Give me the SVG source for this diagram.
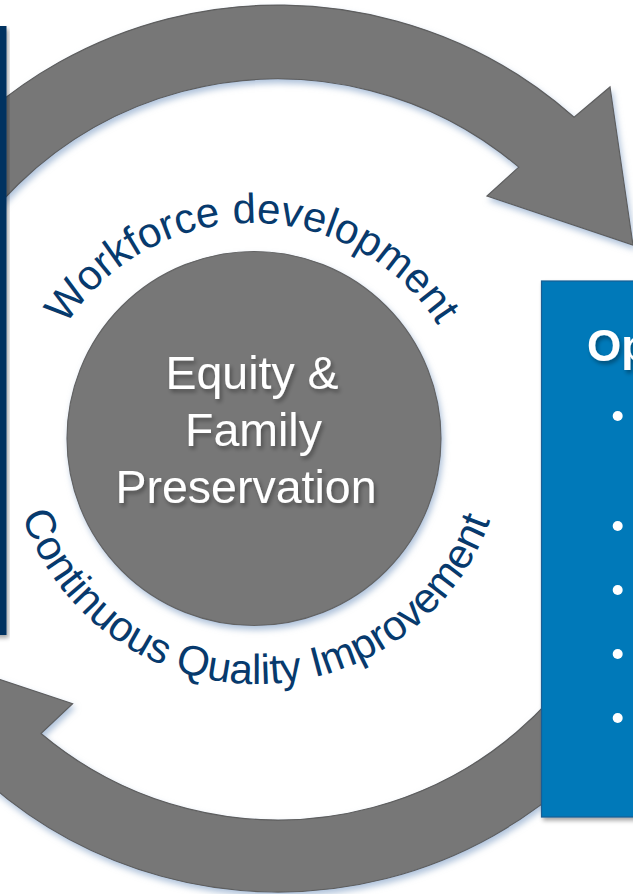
<svg xmlns="http://www.w3.org/2000/svg" width="633" height="894" viewBox="0 0 633 894">
<defs>
<style>
.arrow{fill:#777777;stroke:#5e5e5e;stroke-width:1.2;}
.arc{font-family:"Liberation Sans",Arial,sans-serif;font-size:42px;fill:#073a6d;}
.ctr{font-family:"Liberation Sans",Arial,sans-serif;font-size:46.5px;fill:#ffffff;text-anchor:middle;}
.op{font-family:"Liberation Sans",Arial,sans-serif;font-size:44px;font-weight:bold;fill:#ffffff;}
.dot{fill:#ffffff;}
</style>
<filter id="glow" x="-20%" y="-20%" width="140%" height="140%">
<feGaussianBlur in="SourceAlpha" stdDeviation="3"/>
<feOffset dx="2" dy="4" result="b"/>
<feFlood flood-color="#8ea9cb" flood-opacity="0.7"/>
<feComposite in2="b" operator="in"/>
<feMerge><feMergeNode/><feMergeNode in="SourceGraphic"/></feMerge>
</filter>
<filter id="dark" x="-20%" y="-20%" width="140%" height="140%">
<feGaussianBlur in="SourceAlpha" stdDeviation="2"/>
<feOffset dx="2" dy="3" result="b"/>
<feFlood flood-color="#000000" flood-opacity="0.35"/>
<feComposite in2="b" operator="in"/>
<feMerge><feMergeNode/><feMergeNode in="SourceGraphic"/></feMerge>
</filter>
<path id="topArc" d="M32.8,424.3 A220,220 0 0 1 471.2,424.3" fill="none"/>
<path id="botArc" d="M9.9,457.6 A248,248 0 0 0 503.5,462.8" fill="none"/>
</defs>
<rect width="633" height="894" fill="#ffffff"/>

<g id="connectors" filter="url(#glow)">
<path id="arrow-top" class="arrow" d="M-142,299.1 A447,447 0 0 1 574.1,117.2 L610,87 L633,245 L487,196 L518.8,167.1 A373,373 0 0 0 -72.5,324.4 Z"/>
<path id="arrow-bottom" class="arrow" d="M691.5,602.5 A440,440 0 0 1 -13.5,781.6 L-49.1,811.4 L-70.8,655.8 L72.6,703.8 L41,733.5 A368,368 0 0 0 623.8,577.9 Z"/>
</g>

<g id="left-panel" filter="url(#dark)">
<rect x="-10" y="26" width="16.5" height="609" fill="#023160"/>
</g>

<g id="center-circle">
<circle cx="254" cy="438.5" r="187" fill="#777777" stroke="#646464" stroke-width="1.2" filter="url(#glow)"/>
<g filter="url(#dark)">
<text class="ctr" x="252" y="389">Equity &amp;</text>
<text class="ctr" x="253.5" y="446">Family</text>
<text class="ctr" x="246" y="503">Preservation</text>
</g>
</g>

<g id="label-workforce">
<text class="arc"><textPath href="#topArc" startOffset="50%" text-anchor="middle">Workforce development</textPath></text>
</g>

<g id="label-cqi">
<text class="arc"><textPath href="#botArc" startOffset="50%" text-anchor="middle">Continuous Quality Improvement</textPath></text>
</g>

<g id="right-panel">
<rect x="541.5" y="281" width="110" height="536" fill="#0079b9" stroke="#1a5d93" stroke-width="1.2" filter="url(#dark)"/>
<text class="op" x="587" y="361" filter="url(#dark)">Op</text>
<circle class="dot" cx="617.7" cy="416" r="5"/>
<circle class="dot" cx="617.7" cy="526" r="5"/>
<circle class="dot" cx="617.7" cy="590" r="5"/>
<circle class="dot" cx="617.7" cy="654" r="5"/>
<circle class="dot" cx="617.7" cy="718" r="5"/>
</g>
</svg>
